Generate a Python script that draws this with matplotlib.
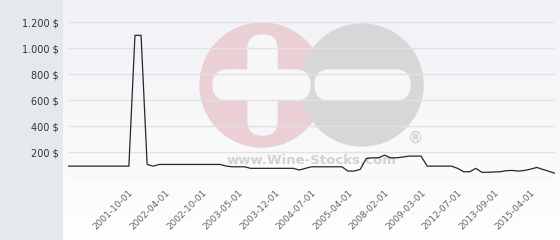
import numpy as np
import matplotlib
matplotlib.use("Agg")
import matplotlib.pyplot as plt
import matplotlib.transforms as mtransforms
from matplotlib.patches import Circle, FancyBboxPatch, Rectangle
from matplotlib.colors import LinearSegmentedColormap

plt.rcParams['font.family'] = ['DejaVu Sans']

# price history (one value per quote, evenly spaced on the x axis)
prices = [95, 95, 95, 95, 95, 95, 95, 95, 95, 95, 95,
          1100, 1100,
          108, 95,
          108, 108, 108, 108, 108, 108, 108, 108, 108, 108, 108,
          95, 90, 90, 90,
          78, 78, 78, 78, 78, 78, 78, 78,
          65, 78,
          90, 90, 90, 90, 90, 90,
          57, 57, 70, 154, 159, 159, 179, 159, 159, 165, 172, 172, 172,
          95, 95, 95, 95, 95,
          78, 52, 52, 78, 47, 48, 50, 52, 60, 62, 57, 62, 72, 85, 70, 55, 40]

tick_labels = ["2001-10-01", "2002-04-01", "2002-10-01", "2003-05-01",
               "2003-12-01", "2004-07-01", "2005-04-01", "2008-02-01",
               "2009-03-01", "2012-07-01", "2013-09-01", "2015-04-01"]

y_ticks = [200, 400, 600, 800, 1000, 1200]
y_labels = ["200 $", "400 $", "600 $", "800 $", "1.000 $", "1.200 $"]

W, H = 560, 240
fig = plt.figure(figsize=(W / 100, H / 100), dpi=100)
fig.patch.set_facecolor("white")

# background layer in pixel coordinates
bg = fig.add_axes([0, 0, 1, 1])
bg.set_xlim(0, W)
bg.set_ylim(H, 0)
bg.axis("off")
bg.add_patch(Rectangle((0, 0), 63, H, color="#e5e9ed", zorder=0))
grad = LinearSegmentedColormap.from_list("g", ["#f1f2f6", "#fefefe"])
bg.imshow(np.linspace(0, 1, 100).reshape(-1, 1), cmap=grad, aspect="auto",
          extent=[63, W, H, 0], zorder=0)

# watermark
bg.add_patch(Circle((262, 85), 62, color="#eacfd4", zorder=1))
bg.add_patch(Circle((362, 85), 61, color="#d7d7d9", zorder=2))
bar = "#f7f7f9"
bg.add_patch(FancyBboxPatch((248, 35), 29, 100, boxstyle="round,pad=0,rounding_size=14",
                            color=bar, zorder=3))
bg.add_patch(FancyBboxPatch((213, 70), 97, 30, boxstyle="round,pad=0,rounding_size=15",
                            color=bar, zorder=3))
bg.add_patch(FancyBboxPatch((315, 70), 95, 30, boxstyle="round,pad=0,rounding_size=15",
                            color=bar, zorder=3))
bg.text(415, 138, "®", fontsize=11, color="#c8c8c8", ha="center", va="center", zorder=3)
bg.text(312, 161, "www.Wine-Stocks.com", fontsize=9.5, fontweight="bold",
        color="#d2d2d2", ha="center", va="center", zorder=3)

# main chart
ax = fig.add_axes([68 / W, (H - 178.5) / H, 487 / W, 156.2 / H])
ax.patch.set_alpha(0)
x = np.arange(len(prices))
ax.plot(x, prices, color="#33202b", linewidth=0.9, zorder=3)

ax.set_xlim(0, len(prices) - 1)
ax.set_ylim(0, 1200)
ax.set_yticks([0] + y_ticks)
ax.set_yticklabels([""] + y_labels)
ax.set_xticks(np.arange(10, len(prices), 6)[:len(tick_labels)])
ax.set_xticklabels(tick_labels, rotation=45, ha="right", va="top",
                   rotation_mode="anchor")
shift = mtransforms.ScaledTranslation(-4 / 100, 0, fig.dpi_scale_trans)
for lbl in ax.get_xticklabels():
    lbl.set_transform(lbl.get_transform() + shift)
ax.tick_params(axis="y", length=0, pad=6.5, labelsize=7, labelcolor="#333333")
ax.tick_params(axis="x", length=0, pad=7, labelsize=6.5, labelcolor="#666666")
ax.yaxis.grid(True, color="#e2e2e2", linewidth=1)
ax.xaxis.grid(False)
for s in ax.spines.values():
    s.set_visible(False)

fig.savefig("out.png", dpi=100)
